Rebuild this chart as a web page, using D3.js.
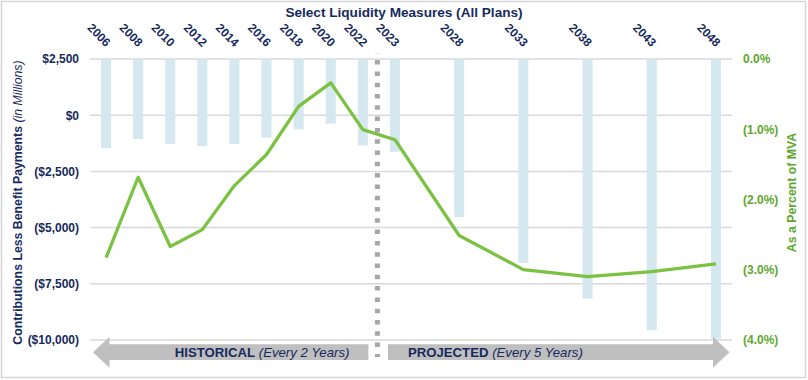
<!DOCTYPE html>
<html>
<head>
<meta charset="utf-8">
<script src="https://cdn.jsdelivr.net/npm/d3@7"></script>
<style>
  html, body { margin: 0; padding: 0; background: #ffffff; }
  svg { display: block; font-family: "Liberation Sans", Arial, sans-serif; }
</style>
</head>
<body>
<svg id="chart" width="808" height="380"></svg>
<script>
// ---------------- data ----------------
const years = [2006, 2008, 2010, 2012, 2014, 2016, 2018, 2020, 2022, 2023, 2028, 2033, 2038, 2043, 2048];
// light-blue bars (hanging from 0.0% on the right axis)
const barPct = [-1.27, -1.14, -1.21, -1.24, -1.21, -1.12, -1.00, -0.92, -1.23, -1.32, -2.25, -2.90, -3.41, -3.86, -3.98];
// green line (left axis, $ millions)
const lineMillions = [-6340, -2760, -5840, -5090, -3130, -1750, 390, 1440, -640, -1090, -5350, -6870, -7180, -6960, -6610];
const leftTicks = [2500, 0, -2500, -5000, -7500, -10000];
const rightTicks = [0, -1, -2, -3, -4];
const title = "Select Liquidity Measures (All Plans)";
const leftTitleMain = "Contributions Less Benefit Payments ";
const leftTitleItalic = "(in Millions)";
const rightTitle = "As a Percent of MVA";
const histLabel = ["HISTORICAL", " (Every 2 Years)"];
const projLabel = ["PROJECTED", " (Every 5 Years)"];

// ---------------- layout ----------------
const W = 808, H = 380;
const plot = { left: 90, right: 732, top: 59, bottom: 340 };
const nSlots = 20;
const step = (plot.right - plot.left) / nSlots;
const navy = "#172a5e";
const green = "#62a630";
const FONT = "Liberation Sans, Arial, sans-serif";

const svg = d3.select("#chart");

// piecewise x scale: historical every 2 yrs, then 2023, projected every 5 yrs with gap slots
const x = d3.scaleLinear()
  .domain([2006, 2022, 2023, 2048])
  .range([plot.left + step * 0.5, plot.left + step * 8.5, plot.left + step * 9.5, plot.left + step * 19.5]);
const yL = d3.scaleLinear().domain([-10000, 2500]).range([plot.bottom, plot.top]);
const yR = d3.scaleLinear().domain([-4, 0]).range([plot.bottom, plot.top]);

// outer frame
svg.append("rect").attr("x", 1.5).attr("y", 1.5).attr("width", W - 4).attr("height", H - 4)
  .attr("fill", "none").attr("stroke", "#d6d6d6").attr("stroke-width", 1.5);

// gridlines
svg.append("g").selectAll("line").data(leftTicks).join("line")
  .attr("x1", plot.left).attr("x2", plot.right)
  .attr("y1", d => yL(d)).attr("y2", d => yL(d))
  .attr("stroke", "#d9d9d9").attr("stroke-width", 1.5);

// bars
const barW = 10;
svg.append("g").selectAll("rect").data(years).join("rect")
  .attr("x", (d) => x(d) - barW / 2)
  .attr("y", yR(0))
  .attr("width", barW)
  .attr("height", (d, i) => yR(barPct[i]) - yR(0))
  .attr("fill", "#d5e7ef");

// divider
const divX = (x(2022) + x(2023)) / 2 - 1.5;
svg.append("line").attr("x1", divX).attr("x2", divX).attr("y1", 53).attr("y2", 357)
  .attr("stroke", "#a6a6a6").attr("stroke-width", 5)
  .attr("stroke-dasharray", "4.5 6.8").attr("stroke-dashoffset", 4.2);

// line
svg.append("path")
  .datum(years.map((yr, i) => [x(yr), yL(lineMillions[i])]))
  .attr("d", d3.line())
  .attr("fill", "none").attr("stroke", "#7bc242").attr("stroke-width", 3.3)
  .attr("stroke-linejoin", "round");

// left axis
const fmt = d3.format(",");
const leftAxis = d3.axisLeft(yL).tickValues(leftTicks).tickSize(0).tickPadding(0)
  .tickFormat(v => v >= 0 ? "$" + fmt(v) : "($" + fmt(-v) + ")");
const gL = svg.append("g").attr("transform", `translate(79,0)`).call(leftAxis);
gL.select(".domain").remove();
gL.selectAll("text").attr("fill", navy).attr("font-size", 12).attr("font-weight", "bold")
  .attr("font-family", FONT);

// right axis
const rightAxis = d3.axisRight(yR).tickValues(rightTicks).tickSize(0).tickPadding(0)
  .tickFormat(v => v === 0 ? "0.0%" : "(" + (-v).toFixed(1) + "%)");
const gR = svg.append("g").attr("transform", `translate(743,0)`).call(rightAxis);
gR.select(".domain").remove();
gR.selectAll("text").attr("fill", green).attr("font-size", 12).attr("font-weight", "bold")
  .attr("font-family", FONT);

// top category axis (rotated labels)
const topAxis = d3.axisTop(x).tickValues(years).tickSize(0).tickPadding(0).tickFormat(d3.format("d"));
const gT = svg.append("g").attr("transform", `translate(0,47.5)`).call(topAxis);
gT.select(".domain").remove();
gT.selectAll("text")
  .attr("fill", navy).attr("font-size", 12).attr("font-weight", "bold")
  .attr("font-family", FONT)
  .attr("text-anchor", "end").attr("dy", 0)
  .attr("transform", "translate(-1,0) rotate(45)");

// title
svg.append("text").attr("x", 404).attr("y", 16.5).attr("text-anchor", "middle")
  .attr("fill", navy).attr("font-size", 13.6).attr("font-weight", "bold").text(title);

// left axis title
const lt = svg.append("text").attr("transform", "translate(21.5,202.5) rotate(-90)")
  .attr("text-anchor", "middle").attr("fill", navy).attr("font-size", 12.3);
lt.append("tspan").attr("font-weight", "bold").text(leftTitleMain);
lt.append("tspan").attr("font-style", "italic").text(leftTitleItalic);

// right axis title
svg.append("text").attr("transform", "translate(795.5,192.5) rotate(-90)")
  .attr("text-anchor", "middle").attr("fill", green).attr("font-size", 12.3)
  .attr("font-weight", "bold").text(rightTitle);

// arrows
const aMid = 352.2, bodyH = 15.7, headH = 31, headL = 16.5;
const leftTip = plot.left + 3, leftEnd = divX - 9;
const rightStart = divX + 10.5, rightTip = plot.right - 2.5;
svg.append("polygon").attr("fill", "#bfbfbf").attr("points", [
  [leftTip, aMid], [leftTip + headL, aMid - headH / 2], [leftTip + headL, aMid - bodyH / 2],
  [leftEnd, aMid - bodyH / 2], [leftEnd, aMid + bodyH / 2], [leftTip + headL, aMid + bodyH / 2],
  [leftTip + headL, aMid + headH / 2]
].map(p => p.join(",")).join(" "));
svg.append("polygon").attr("fill", "#bfbfbf").attr("points", [
  [rightTip, aMid], [rightTip - headL, aMid - headH / 2], [rightTip - headL, aMid - bodyH / 2],
  [rightStart, aMid - bodyH / 2], [rightStart, aMid + bodyH / 2], [rightTip - headL, aMid + bodyH / 2],
  [rightTip - headL, aMid + headH / 2]
].map(p => p.join(",")).join(" "));

const ht = svg.append("text").attr("x", leftEnd - 19).attr("y", aMid + 4.6).attr("text-anchor", "end")
  .attr("fill", navy).attr("font-size", 13.2);
ht.append("tspan").attr("font-weight", "bold").text(histLabel[0]);
ht.append("tspan").attr("font-style", "italic").text(histLabel[1]);

const pt = svg.append("text").attr("x", rightStart + 20).attr("y", aMid + 4.6).attr("text-anchor", "start")
  .attr("fill", navy).attr("font-size", 13.2);
pt.append("tspan").attr("font-weight", "bold").text(projLabel[0]);
pt.append("tspan").attr("font-style", "italic").text(projLabel[1]);
</script>
</body>
</html>
